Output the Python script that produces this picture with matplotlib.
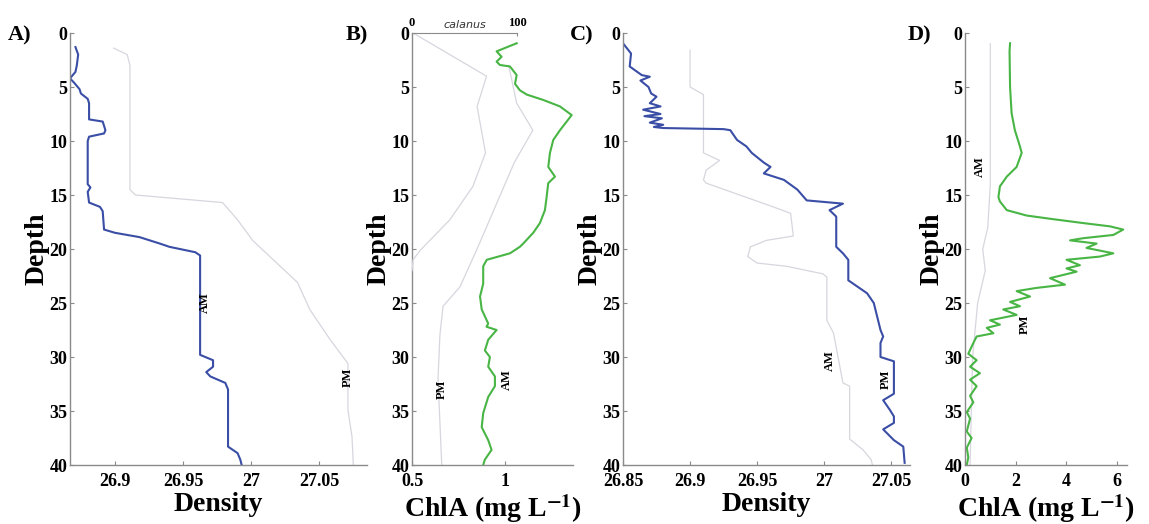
import matplotlib
matplotlib.use("Agg")
import matplotlib.pyplot as plt

plt.rcParams['font.family'] = ['Liberation Serif', 'DejaVu Serif']
plt.rcParams['mathtext.fontset'] = 'stix'

# ---------------- data ----------------
depth_ticks = [0, 5, 10, 15, 20, 25, 30, 35, 40]

# Panel A (density, morning vs afternoon)
a_am_depth = [1.3, 2.0, 3.0, 3.6, 4.2, 4.6, 5.2, 5.6, 6.1, 6.5, 8.0, 8.2, 9.0, 9.3, 9.6, 10.0,
              14.0, 14.3, 14.7, 15.7, 16.1, 16.5, 18.2, 18.5, 18.9, 19.5, 19.8, 20.3, 20.6, 21.0,
              29.8, 30.3, 30.9, 31.4, 31.8, 32.4, 33.0, 38.3, 38.9, 39.5, 40.0]
a_am_dens = [26.871, 26.873, 26.872, 26.871, 26.867, 26.870, 26.874, 26.875, 26.880, 26.881,
             26.881, 26.891, 26.893, 26.892, 26.881, 26.880, 26.880, 26.882, 26.880, 26.881,
             26.889, 26.891, 26.892, 26.900, 26.918, 26.933, 26.940, 26.959, 26.9625, 26.9625,
             26.9625, 26.972, 26.972, 26.967, 26.970, 26.981, 26.983, 26.983, 26.990, 26.992, 26.993]
a_pm_depth = [1.4, 2.0, 3.0, 14.5, 15.0, 15.7, 17.3, 19.2, 23.1, 25.6, 28.4, 30.6, 34.9, 37.4, 40.0]
a_pm_dens = [26.899, 26.909, 26.911, 26.911, 26.915, 26.979, 26.990, 27.001, 27.034, 27.043,
             27.058, 27.071, 27.071, 27.074, 27.075]

# Panel B (chlorophyll + calanus)
b_am_depth = [0.95, 1.7, 2.2, 2.65, 2.96, 3.1, 3.9, 4.7, 5.3, 5.7, 6.2, 6.8, 7.6, 8.2, 9.0, 9.9,
              11.1, 12.4, 13.3, 13.9, 15.2, 16.4, 17.6, 18.5, 19.5, 19.8, 20.4, 21.0, 21.6, 23.2,
              24.4, 25.6, 26.9, 27.2, 27.5, 28.4, 29.4, 30.0, 30.9, 31.8, 32.7, 33.7, 35.2, 36.5,
              37.7, 38.6, 39.5, 40.0]
b_am_chl = [1.063, 0.955, 0.982, 0.955, 0.973, 1.027, 1.063, 1.054, 1.080, 1.117, 1.206, 1.296,
            1.359, 1.332, 1.296, 1.260, 1.242, 1.233, 1.269, 1.233, 1.224, 1.215, 1.188, 1.152,
            1.098, 1.080, 1.027, 0.902, 0.883, 0.883, 0.866, 0.875, 0.910, 0.901, 0.955, 0.910,
            0.892, 0.919, 0.910, 0.946, 0.946, 0.910, 0.883, 0.875, 0.910, 0.928, 0.892, 0.883]
b_pm_depth = [3.0, 6.5, 9.0, 12.0, 16.0, 20.0, 23.5, 25.3, 28.0, 32.0, 36.0, 40.0]
b_pm_chl = [1.02, 1.063, 1.15, 1.05, 0.95, 0.85, 0.758, 0.667, 0.65, 0.64, 0.65, 0.66]
b_cal_depth = [0.0, 4.0, 6.8, 11.1, 14.2, 17.3, 20.1, 21.0, 22.0]
b_cal_count = [1, 71, 62, 70, 58, 36, 8, 1, 0]

# Panel C (density)
c_pm_depth = [0.95, 1.9, 3.1, 3.9, 4.05, 4.4, 5.0, 5.6, 5.9, 6.5, 6.8, 7.1, 7.5, 7.7, 7.9, 8.3,
              8.5, 8.7, 8.8, 8.9, 9.0, 9.9, 10.5, 11.1, 11.5, 12.0, 12.4, 13.0, 13.6, 14.5, 15.5,
              15.7, 15.8, 16.4, 17.0, 19.8, 20.4, 21.0, 22.9, 23.5, 24.1, 25.0, 26.0, 27.5, 28.1,
              28.7, 30.0, 30.4, 33.4, 34.0, 34.9, 35.5, 36.1, 36.7, 37.7, 38.3, 39.8]
c_pm_dens = [26.850, 26.856, 26.855, 26.864, 26.870, 26.863, 26.869, 26.871, 26.875, 26.870,
             26.878, 26.865, 26.878, 26.866, 26.879, 26.870, 26.880, 26.873, 26.880, 26.925,
             26.930, 26.935, 26.942, 26.946, 26.950, 26.955, 26.960, 26.955, 26.970, 26.980,
             26.987, 27.005, 27.014, 27.004, 27.009, 27.009, 27.014, 27.018, 27.018, 27.025,
             27.032, 27.037, 27.039, 27.042, 27.044, 27.042, 27.042, 27.052, 27.052, 27.044,
             27.049, 27.052, 27.052, 27.044, 27.052, 27.059, 27.060]
c_am_depth = [1.6, 5.0, 5.7, 11.1, 11.8, 12.7, 13.6, 13.9, 16.1, 16.7, 18.8, 19.2, 19.8, 20.7,
              21.3, 21.6, 22.3, 22.6, 26.6, 27.8, 32.4, 32.7, 37.6, 38.6, 39.5, 40.0]
c_am_dens = [26.900, 26.900, 26.910, 26.910, 26.922, 26.912, 26.910, 26.912, 26.962, 26.975,
             26.977, 26.957, 26.945, 26.943, 26.950, 26.972, 26.999, 27.002, 27.002, 27.007,
             27.014, 27.019, 27.019, 27.029, 27.035, 27.036]

# Panel D (chlorophyll)
d_pm_depth = [0.95, 1.7, 5.0, 7.4, 9.0, 10.5, 11.1, 12.4, 13.3, 14.2, 15.2, 15.6, 16.4, 16.9,
              17.2, 17.6, 17.9, 18.2, 18.7, 19.0, 19.2, 19.5, 19.9, 20.4, 20.7, 21.0, 21.5, 21.8,
              22.1, 22.7, 23.3, 23.6, 23.9, 24.4, 24.9, 25.3, 25.6, 26.1, 26.6, 27.0, 27.3, 27.8,
              28.1, 28.7, 29.7, 30.3, 30.9, 31.5, 32.1, 32.7, 33.6, 34.2, 35.1, 35.7, 36.9, 37.5,
              38.4, 39.3, 40.0]
d_pm_chl = [1.78, 1.76, 1.78, 1.84, 1.97, 2.17, 2.24, 2.04, 1.65, 1.38, 1.32, 1.38, 1.65, 2.43,
            3.36, 4.67, 5.72, 6.25, 5.86, 4.67, 4.15, 5.20, 4.80, 5.86, 5.33, 4.01, 4.54, 4.01,
            4.41, 3.36, 3.95, 2.83, 2.04, 2.57, 1.78, 2.17, 1.51, 2.04, 0.99, 1.38, 0.86, 1.12,
            0.46, 0.33, 0.13, 0.46, 0.20, 0.59, 0.20, 0.46, 0.20, 0.33, 0.07, 0.20, 0.07, 0.26,
            0.07, 0.13, 0.07]
d_am_depth = [1.0, 14.0, 18.0, 20.0, 22.0, 25.0, 30.0, 40.0]
d_am_chl = [1.0, 1.0, 0.9, 0.7, 0.8, 0.5, 0.3, 0.2]

# ---------------- style ----------------
BLUE = '#3a4ea6'
GREEN = '#48b545'
GRAY = '#d6d6de'
SPINE = '#8a8a8a'
CHL_LABEL = 'ChlA (mg L$^{\\mathbf{-1}}$)'

fig = plt.figure(figsize=(11.49, 5.24), dpi=100)
W, H = 1149.0, 524.0
top_px, bot_px = 33.0, 465.0


def make_ax(left_px, right_px):
    ax = fig.add_axes([left_px / W, 1 - bot_px / H, (right_px - left_px) / W, (bot_px - top_px) / H])
    ax.set_ylim(40, 0)
    ax.set_yticks(depth_ticks)
    ax.spines['top'].set_visible(False)
    ax.spines['right'].set_visible(False)
    for s in ('left', 'bottom'):
        ax.spines[s].set_color(SPINE)
        ax.spines[s].set_linewidth(1.0)
    ax.tick_params(direction='in', length=3, width=0.8, color=SPINE, labelsize=13, pad=2)
    ax.tick_params(axis='x', pad=6)
    ax.set_ylabel('Depth', fontsize=20, fontweight='bold', labelpad=0)
    ax.patch.set_alpha(0)
    return ax


def bold_ticks(ax):
    for lab in ax.get_xticklabels() + ax.get_yticklabels():
        lab.set_fontweight('bold')


def tag(ax, x, y, s):
    ax.text(x, y, s, rotation=90, fontsize=9, fontweight='bold', ha='center', va='center')


# Panel A
axA = make_ax(70, 367)
axA.plot(a_pm_dens, a_pm_depth, color=GRAY, lw=0.9)
axA.plot(a_am_dens, a_am_depth, color=BLUE, lw=1.5)
axA.set_xlim(26.867, 27.085)
axA.set_xticks([26.9, 26.95, 27.0, 27.05])
axA.set_xticklabels(['26.9', '26.95', '27', '27.05'])
axA.set_xlabel('Density', fontsize=20, fontweight='bold', labelpad=1)
bold_ticks(axA)
tag(axA, 26.966, 25.0, 'AM')
tag(axA, 27.071, 31.9, 'PM')

# Panel B
axB = make_ax(412, 573)
axB.plot(b_pm_chl, b_pm_depth, color=GRAY, lw=0.9)
axB.plot(b_am_chl, b_am_depth, color=GREEN, lw=1.5)
axB.set_xlim(0.5, 1.366)
axB.set_xticks([0.5, 1.0])
axB.set_xticklabels(['0.5', '1'])
axB.set_xlabel(CHL_LABEL, fontsize=20, fontweight='bold', labelpad=1)
bold_ticks(axB)
tag(axB, 1.009, 32.1, 'AM')
tag(axB, 0.66, 33.0, 'PM')
axB2 = axB.twiny()
axB2.plot(b_cal_count, b_cal_depth, color=GRAY, lw=0.9)
cal_max = 100 * 161 / 105.0
axB2.set_xlim(0, cal_max)
axB2.set_ylim(40, 0)
axB2.spines['top'].set_bounds(0, 100)
axB2.spines['top'].set_color(SPINE)
for s in ('left', 'right', 'bottom'):
    axB2.spines[s].set_visible(False)
axB2.set_xticks([0, 100])
axB2.set_xticklabels(['0', '100'])
axB2.tick_params(axis='x', direction='in', length=2, color=SPINE, labelsize=9, pad=3)
for lab in axB2.get_xticklabels():
    lab.set_fontweight('bold')
axB2.set_xlabel('calanus', fontsize=8, style='italic', family='DejaVu Sans', labelpad=-8,
                color='#333333')
axB2.xaxis.label.set_x(50 / cal_max)

# Panel C
axC = make_ax(623, 910)
axC.plot(c_am_dens, c_am_depth, color=GRAY, lw=0.9)
axC.plot(c_pm_dens, c_pm_depth, color=BLUE, lw=1.5)
axC.set_xlim(26.85, 27.064)
axC.set_xticks([26.85, 26.9, 26.95, 27.0, 27.05])
axC.set_xticklabels(['26.85', '26.9', '26.95', '27', '27.05'])
axC.set_xlabel('Density', fontsize=20, fontweight='bold', labelpad=1)
bold_ticks(axC)
tag(axC, 27.004, 30.3, 'AM')
tag(axC, 27.046, 32.1, 'PM')

# Panel D
axD = make_ax(965, 1127)
axD.plot(d_am_chl, d_am_depth, color=GRAY, lw=0.9)
axD.plot(d_pm_chl, d_pm_depth, color=GREEN, lw=1.5)
axD.set_xlim(0, 6.4)
axD.set_xticks([0, 2, 4, 6])
axD.set_xlabel(CHL_LABEL, fontsize=20, fontweight='bold', labelpad=1)
bold_ticks(axD)
tag(axD, 0.6, 12.4, 'AM')
tag(axD, 2.37, 27.0, 'PM')

# Panel letters
for x_px, s in [(8, 'A)'), (346, 'B)'), (570, 'C)'), (908, 'D)')]:
    fig.text(x_px / W, 1 - 35 / H, s, fontsize=16, fontweight='bold', va='center', ha='left')

fig.savefig('out.png', dpi=100, facecolor='white')
